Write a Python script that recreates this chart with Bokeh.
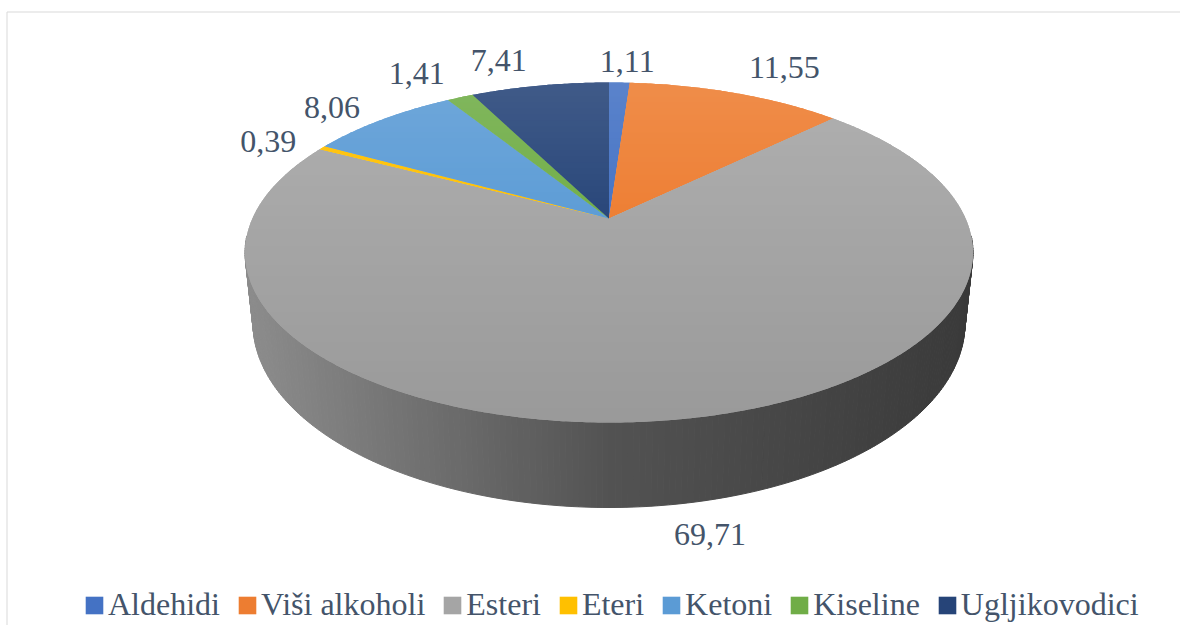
import numpy as np
from bokeh.plotting import figure
from bokeh.models import Range1d, Legend, LegendItem
from bokeh.embed import file_html
from bokeh.resources import INLINE
from bokeh.core.properties import value

# ---------------- data ----------------
categories = ["Aldehidi", "Viši alkoholi", "Esteri", "Eteri", "Ketoni", "Kiseline", "Ugljikovodici"]
values = [1.11, 11.55, 69.71, 0.39, 8.06, 1.41, 7.41]
value_labels = ["1,11", "11,55", "69,71", "0,39", "8,06", "1,41", "7,41"]
colors = ["#4472C4", "#ED7D31", "#A5A5A5", "#FFC000", "#5B9BD5", "#70AD47", "#264478"]

# label nudges (pixels) relative to computed outside-end anchor
label_dx = [5, 22, 30, -18, -16, -15, -24]
label_dy = [6, -7, 4, 0, -1, -7, -1]

# ---------------- geometry (figure pixels, y downwards) ----------------
W, H = 1180, 625
CX, CY = 608.5, 218.0      # projected pie centre (apex)
A, B, K = 356.6, 163.2, 0.2
HT = 68.0                   # thickness
SB = 0.978                  # bottom face horizontal scale
FONT = "Liberation Serif"
TXT = "#44546A"


def top_pt(t):
    u, v = np.sin(t), np.cos(t)
    w = 1 + K * v
    return CX + A * u / w, CY - B * v / w


def bot_pt(t):
    x, y = top_pt(t)
    v = np.cos(t)
    w = 1 + K * v
    return CX + SB * (x - CX), y + HT / w


def hex2rgb(h):
    h = h.lstrip("#")
    return np.array([int(h[i:i + 2], 16) for i in (0, 2, 4)], dtype=float)


def rgb2hex(c):
    c = np.clip(np.round(c), 0, 255).astype(int)
    return "#%02x%02x%02x" % tuple(c)


def top_shade(base, y):
    amt = np.interp(y, [82, 238, 422], [0.12, 0.0, -0.07])
    c = hex2rgb(base)
    if amt >= 0:
        c = c + (255 - c) * amt
    else:
        c = c * (1 + amt)
    return rgb2hex(c)


def side_shade(base, x):
    f = np.interp(x, [244, 378, 608, 972], [0.85, 0.72, 0.50, 0.35])
    return rgb2hex(hex2rgb(base) * f)


def clip_half(poly, y0, keep_above):
    out = []
    n = len(poly)
    for i in range(n):
        P = poly[i]
        Q = poly[(i + 1) % n]
        inP = P[1] >= y0 if keep_above else P[1] <= y0
        inQ = Q[1] >= y0 if keep_above else Q[1] <= y0
        if inP:
            out.append(P)
        if inP != inQ:
            t = (y0 - P[1]) / (Q[1] - P[1])
            out.append((P[0] + t * (Q[0] - P[0]), y0))
    return out


total = float(sum(values))
fracs = np.array(values) / total
cum = np.concatenate([[0.0], np.cumsum(fracs)])
t0s = cum[:-1] * 2 * np.pi
t1s = cum[1:] * 2 * np.pi

p = figure(width=W, height=H, output_backend="svg", toolbar_location=None,
           x_range=Range1d(0, W), y_range=Range1d(H, 0),
           x_axis_location=None, y_axis_location=None, min_border=0)
p.grid.visible = False
p.outline_line_color = None
p.background_fill_color = "white"
p.border_fill_color = "white"

# chart border
p.quad(left=[6.5], right=[W + 20], top=[11.5], bottom=[H + 20],
       fill_color=None, line_color="#D9D9D9", line_width=1)

# ---------------- sides ----------------
front_lo, front_hi = np.radians(96), np.radians(264)
sx, sy, sc = [], [], []
for i in range(len(values)):
    a0, a1 = max(t0s[i], front_lo), min(t1s[i], front_hi)
    if a1 <= a0:
        continue
    n = max(2, int((a1 - a0) / np.radians(0.8)))
    ts = np.linspace(a0, a1, n + 1)
    for j in range(n):
        ta, tb = ts[j], ts[j + 1]
        xa, ya = top_pt(ta)
        xb, yb = top_pt(tb)
        xc, yc = bot_pt(tb)
        xd, yd = bot_pt(ta)
        sx.append([xa, xb, xc, xd])
        sy.append([ya, yb, yc, yd])
        sc.append(side_shade(colors[i], (xa + xb) / 2))
p.patches(xs=sx, ys=sy, fill_color=sc, line_color=sc, line_width=1)

# ---------------- top faces ----------------
band_edges = np.arange(78, 428, 6.0)
for i in range(len(values)):
    ts = np.linspace(t0s[i], t1s[i], max(3, int((t1s[i] - t0s[i]) / np.radians(0.5)) + 1))
    pts = [(CX, CY)] + [top_pt(t) for t in ts]
    xs = [q[0] for q in pts]
    ys = [q[1] for q in pts]
    ymid = (min(ys) + max(ys)) / 2
    p.patch(xs, ys, fill_color=top_shade(colors[i], ymid), line_color=None)
    bx, by, bc = [], [], []
    for k in range(len(band_edges) - 1):
        y0, y1 = band_edges[k], band_edges[k + 1]
        poly = clip_half(pts, y0, True)
        if len(poly) < 3:
            continue
        poly = clip_half(poly, y1 + 0.6, False)
        if len(poly) < 3:
            continue
        bx.append([q[0] for q in poly])
        by.append([q[1] for q in poly])
        bc.append(top_shade(colors[i], (y0 + y1) / 2))
    if bx:
        p.patches(xs=bx, ys=by, fill_color=bc, line_color=None)

# ---------------- data labels ----------------
lx, ly = [], []
for i in range(len(values)):
    tm = (t0s[i] + t1s[i]) / 2
    if np.cos(tm) >= 0:
        ex, ey = top_pt(tm)
    else:
        ex, ey = bot_pt(tm)
    dx, dy = ex - CX, ey - CY
    d = np.hypot(dx, dy)
    dx, dy = dx / d, dy / d
    lx.append(ex + dx * (10 + 27) + label_dx[i])
    ly.append(ey + dy * (10 + 17) + label_dy[i])
p.text(x=lx, y=ly, text=value_labels, text_font=value(FONT), text_font_size="32px",
       text_color=TXT, text_align="center", text_baseline="middle")

# ---------------- legend ----------------
nan = float("nan")
items = []
for i, c in enumerate(categories):
    r = p.quad(left=[nan], right=[nan], top=[nan], bottom=[nan],
               fill_color=colors[i], line_color=None)
    items.append(LegendItem(label=c, renderers=[r]))
legend = Legend(items=items, orientation="horizontal", location=(83, 2),
                label_text_font=FONT, label_text_font_size="32px", label_text_color=TXT,
                glyph_width=22, glyph_height=22, label_standoff=3, spacing=16,
                padding=0, margin=0, border_line_alpha=0, background_fill_alpha=0)
p.add_layout(legend)

open("out.html", "w").write(file_html(p, INLINE))
